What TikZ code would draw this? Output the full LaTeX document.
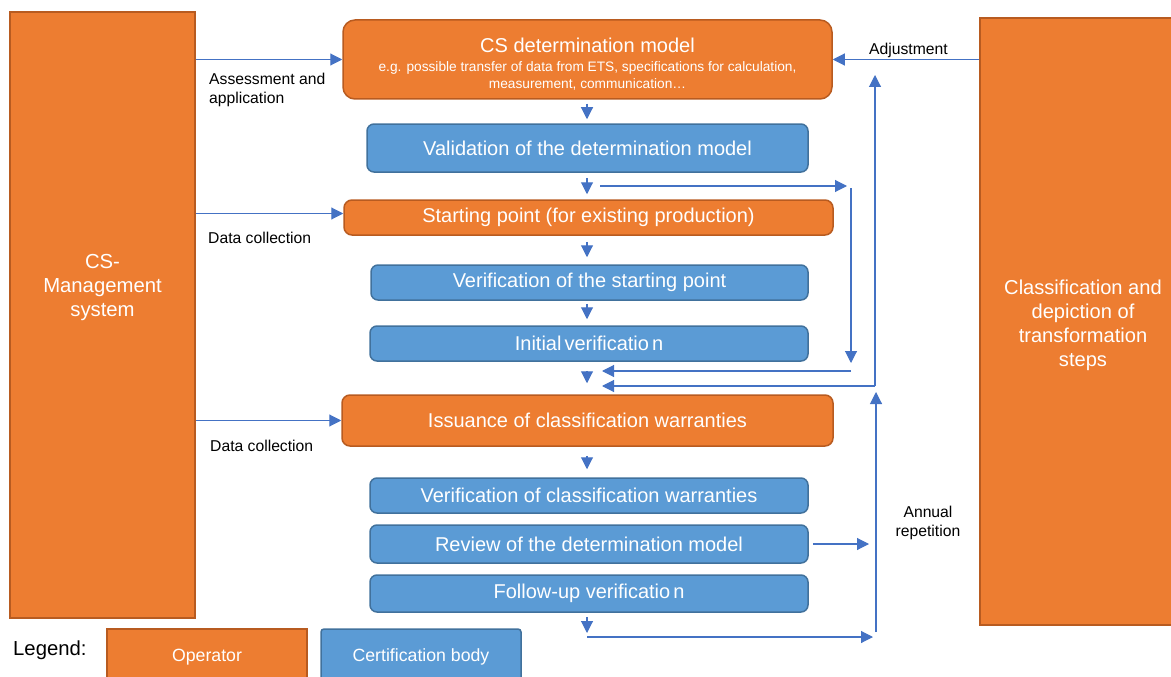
\documentclass[tikz,border=0pt]{standalone}
\usepackage{fontspec}
\setmainfont{Liberation Sans}
\usetikzlibrary{arrows.meta,positioning}

\definecolor{opfill}{HTML}{ED7D31}
\definecolor{opline}{HTML}{B85B20}
\definecolor{cbfill}{HTML}{5B9BD5}
\definecolor{cbline}{HTML}{41719C}
\definecolor{flowblue}{HTML}{4472C4}

\newcommand{\subtext}{\fontsize{13.7}{17}\selectfont}

\tikzset{
  opbox/.style={draw=opline, fill=opfill, line width=1.5pt, text=white, inner sep=0pt,
    font=\fontsize{20}{24}\selectfont, align=center, rounded corners=8pt},
  cbbox/.style={draw=cbline, fill=cbfill, line width=1.5pt, text=white, inner sep=0pt,
    font=\fontsize{20}{24}\selectfont, align=center, rounded corners=7pt},
  flow/.style={draw=flowblue, line width=1.1pt, -{Triangle[length=12pt,width=12pt]}},
  note/.style={font=\fontsize{15.7}{19}\selectfont, align=left, inner sep=0pt}
}

\begin{document}
\begin{tikzpicture}[x=1pt,y=-1pt]
\useasboundingbox (0,0) rectangle (1171,677);

% Side boxes
\node[opbox, rounded corners=0pt, minimum width=185pt, minimum height=606pt,
  label={[text=white, font=\fontsize{20.3}{24}\selectfont, align=center, yshift=27pt]center:{CS-\\Management\\system}}]
  (cms) at (102.5,315) {};
\node[opbox, rounded corners=0pt, minimum width=206pt, minimum height=607pt,
  label={[text=white, font=\fontsize{20.1}{24}\selectfont, align=center, yshift=-3.5pt]center:{Classification and\\depiction of\\transformation\\steps}}]
  (steps) at (1083,321.5) {};

% Main column
\node[opbox, rounded corners=12pt, minimum width=489pt, minimum height=79pt,
  label={[text=white, font=\fontsize{20}{24}\selectfont, align=center, yshift=-4.5pt]center:{CS determination model\\[-5pt]
   \subtext e.g. possible transfer of data from ETS, specifications for calculation,\\[-7pt]
   \subtext measurement, communication…}}]
  (det) at (587.5,59.5) {};
\node[cbbox, minimum width=441pt, minimum height=48pt] (val) at (587.5,148) {Validation of the determination model};
\node[opbox, minimum width=489pt, minimum height=35pt] (start) at (588.5,217.5) {Starting point (for existing production)};
\node[cbbox, minimum width=437pt, minimum height=35pt] (verstart) at (589.5,282.5) {Verification of the starting point};
\node[cbbox, minimum width=438pt, minimum height=35pt] (init) at (589,343.5) {Initial\kern3pt verificatio\kern3pt n};
\node[opbox, minimum width=491pt, minimum height=51pt] (issue) at (587.5,420.5) {Issuance of classification warranties};
\node[cbbox, minimum width=438pt, minimum height=35pt] (verclass) at (589,495.5) {Verification of classification warranties};
\node[cbbox, minimum width=438pt, minimum height=38pt] (review) at (589,544) {Review of the determination model};
\node[cbbox, minimum width=438pt, minimum height=37pt] (follow) at (589,593.5) {Follow-up verificatio\kern3pt n};

% Legend
\node[font=\fontsize{20.3}{24}\selectfont, anchor=west, inner sep=0pt] (legend) at (13,650) {Legend:};
\node[opbox, rounded corners=0pt, minimum width=200pt, minimum height=56pt, font=\fontsize{17.7}{21}\selectfont] (oplegend) at (207,657) {Operator};
\node[cbbox, rounded corners=3pt, minimum width=200pt, minimum height=56pt, font=\fontsize{17.7}{21}\selectfont] (cblegend) at (421,657) {Certification body};

% Inputs from the management system
\draw[flow] (cms.east |- det.west) -- (det.west);
\draw[flow] ([yshift=4pt]cms.east |- start.west) -- ([yshift=4pt]start.west);
\draw[flow] (cms.east |- issue.west) -- (issue.west);
\node[note, anchor=west] (assesslbl) at (209,89.5) {Assessment and\\application};
\node[note, anchor=west] (datalbl) at (208,238) {Data collection};
\node[note, anchor=west] (datalblb) at (210,446) {Data collection};

% Adjustment from the right
\draw[flow] (steps.west |- det.east) -- (det.east);
\node[note, anchor=west] (adjlbl) at (869,50) {Adjustment};

% Steps down the column
\coordinate (axis) at (587,0);
\foreach \a/\b/\s/\e in {det/val/4/4, val/start/5/5, start/verstart/6/7,
    verstart/init/3/6, init/issue/9/11, issue/verclass/9/8}
  \draw[flow, shorten <=\s pt, shorten >=\e pt] (axis |- \a.south) -- (axis |- \b.north);

% Bypass for new production
\coordinate (skip) at (600,186);
\coordinate (bypassTop) at (851,186);
\coordinate (bypassBot) at (851,371);
\draw[flow, shorten >=4pt] (skip) -- (bypassTop);
\draw[flow, shorten <=2pt, shorten >=8pt] (bypassTop) -- (bypassBot);
\draw[flow, shorten >=15pt] (bypassBot) -- (axis |- bypassBot);

% Loop back to the model
\coordinate (loopBot) at (875,386);
\coordinate (loopTop) at (875,75);
\draw[flow] (loopBot) -- (loopTop);
\draw[flow, shorten >=15pt] (loopBot) -- (axis |- loopBot);

% Annual repetition
\coordinate (repBase) at (587,637);
\coordinate (annualBot) at (876,637);
\coordinate (annualTop) at (876,392);
\draw[flow, shorten <=4pt, shorten >=4pt] (axis |- follow.south) -- (repBase);
\draw[flow, shorten >=3pt] (repBase) -- (annualBot);
\draw[flow, shorten <=5pt] (annualBot) -- (annualTop);
\draw[flow, shorten <=4pt, shorten >=7pt] (review.east) -- (annualBot |- review.east);
\node[note, align=center] (annuallbl) at (928,523) {Annual\\repetition};
\end{tikzpicture}
\end{document}
